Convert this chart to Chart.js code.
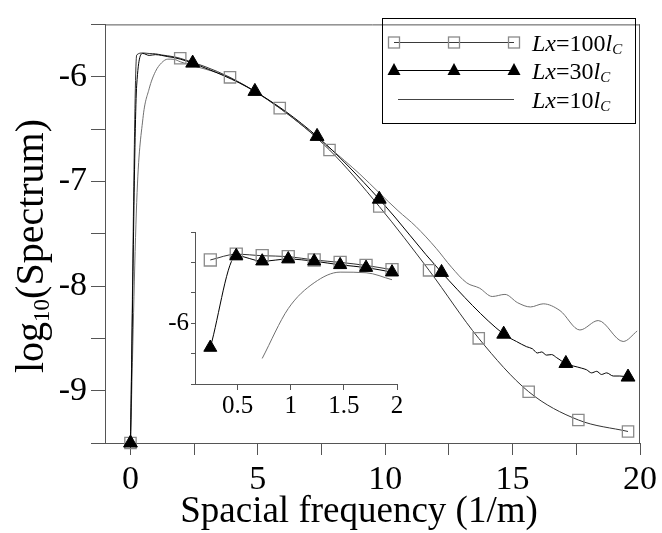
<!DOCTYPE html>
<html><head><meta charset="utf-8">
<script src="https://cdn.jsdelivr.net/npm/chart.js@4.4.1/dist/chart.umd.min.js"></script>
<style>
html,body{margin:0;padding:0;background:#fff;}
#wrap{position:relative;width:662px;height:533px;}
canvas{position:absolute;}
</style>
</head><body>
<div id="wrap">
<canvas id="main" width="662" height="533" style="left:0;top:0"></canvas>
<canvas id="inset" width="260" height="210" style="left:150px;top:215px"></canvas>
</div>
<script>
const SERIF = '"Liberation Serif", "Times New Roman", serif';

// ---- data: spatial frequency (1/m) and log10(Spectrum) ----
const lx100Freq = [0, 0.244, 0.488, 0.732, 0.977, 1.221, 1.465, 1.709, 1.953, 3.906, 5.859, 7.813, 9.766, 11.72, 13.67, 15.63, 17.58, 19.53];
const lx100Log  = [-9.5, -5.792, -5.773, -5.778, -5.781, -5.792, -5.800, -5.810, -5.824, -6.006, -6.30, -6.70, -7.24, -7.85, -8.50, -9.01, -9.28, -9.39];
const lx100MainMarks = [0, 1.953, 3.906, 5.859, 7.813, 9.766, 11.72, 13.67, 15.63, 17.58, 19.53];

const lx30Freq = [0, 0.244, 0.488, 0.732, 0.977, 1.221, 1.465, 1.709, 1.953, 2.441, 4.883, 7.324, 9.766, 12.21, 14.65, 15.15, 15.55, 15.78, 15.97, 16.14, 16.33, 16.53, 16.73, 17.09, 17.71, 17.9, 18.1, 18.3, 18.49, 18.69, 18.95, 19.21, 19.53];
const lx30Log  = [-9.5, -6.080, -5.778, -5.796, -5.789, -5.796, -5.808, -5.817, -5.832, -5.87, -6.14, -6.57, -7.17, -7.87, -8.46, -8.53, -8.58, -8.60, -8.64, -8.63, -8.66, -8.655, -8.685, -8.74, -8.785, -8.80, -8.83, -8.815, -8.845, -8.83, -8.86, -8.86, -8.87];
const lx30MainMarks = [0, 2.441, 4.883, 7.324, 9.766, 12.21, 14.65, 17.09, 19.53];

const lx10Freq = [0, 0.244, 0.488, 0.732, 0.977, 1.221, 1.465, 1.709, 1.953, 3.906, 5.859, 7.813, 9.0, 9.766, 10.5, 11.2, 12.0, 12.6, 13.2, 13.7, 14.2, 14.7, 15.2, 15.7, 16.2, 16.86, 17.64, 18.36, 19.34, 19.89];
const lx10Log  = [-9.5, -7.2, -6.4, -6.116, -5.952, -5.867, -5.832, -5.834, -5.857, -6.01, -6.30, -6.68, -6.93, -7.11, -7.28, -7.43, -7.64, -7.82, -7.97, -8.02, -8.10, -8.08, -8.16, -8.20, -8.17, -8.235, -8.42, -8.33, -8.53, -8.43];

// axis ticks
const mainXTickLabels = [0, 5, 10, 15, 20];
const mainYTickLabels = [-6, -7, -8, -9];
const insetXTickLabels = [0.5, 1, 1.5, 2];
const insetYTickLabels = [-6];

const legendLabels = ['100', '30', '10'];

// ---- helpers ----
const pts = (xs, ys, keep) => xs.map((x, i) => ({x, y: ys[i]})).filter(p => !keep || keep(p.x));
const inList = list => x => list.some(v => Math.abs(v - x) < 1e-6);
const near = (list, v) => list.some(t => Math.abs(t - v) < 1e-6);

const AXIS = '#555';

function lineDs(data, color, order, width, clip) {
  return {data, showLine: true, borderColor: color, borderWidth: width || 1, pointRadius: 0, fill: false,
    cubicInterpolationMode: 'monotone', order, clip};
}
function markDs(data, style, radius, stroke, fill, order, bw) {
  return {data, showLine: false, pointStyle: style, pointRadius: radius, pointHoverRadius: radius,
    borderColor: stroke, backgroundColor: fill, pointBorderColor: stroke, pointBackgroundColor: fill,
    borderWidth: bw, pointBorderWidth: bw, order, clip: false};
}

// frame + axis titles + legend plugin for main chart
const mainDecor = {
  id: 'mainDecor',
  afterDraw(chart) {
    const ctx = chart.ctx, a = chart.chartArea;
    ctx.save();
    ctx.strokeStyle = AXIS; ctx.lineWidth = 1;
    ctx.beginPath();
    ctx.moveTo(a.left, a.top + 0.5); ctx.lineTo(a.right, a.top + 0.5);
    ctx.moveTo(a.right - 0.5, a.top); ctx.lineTo(a.right - 0.5, a.bottom);
    ctx.stroke();

    // x title
    ctx.fillStyle = '#000';
    ctx.font = `37px ${SERIF}`; ctx.textAlign = 'center'; ctx.textBaseline = 'alphabetic';
    ctx.fillText('Spacial frequency (1/m)', 359, 522);

    // y title with subscript
    ctx.translate(30, 246);
    ctx.rotate(-Math.PI / 2);
    const big = `40px ${SERIF}`, small = `23px ${SERIF}`;
    ctx.font = big; const w1 = ctx.measureText('log').width; const w3 = ctx.measureText('(Spectrum)').width;
    ctx.font = small; const w2 = ctx.measureText('10').width;
    let x0 = -(w1 + w2 + w3) / 2;
    ctx.textAlign = 'left';
    ctx.font = big; ctx.fillText('log', x0, 13);
    ctx.font = small; ctx.fillText('10', x0 + w1, 19);
    ctx.font = big; ctx.fillText('(Spectrum)', x0 + w1 + w2, 13);
    ctx.restore();

    // legend
    ctx.save();
    ctx.strokeStyle = '#000'; ctx.lineWidth = 1;
    ctx.strokeRect(382.5, 18.5, 253, 105);
    const rows = [42, 70, 99];
    ctx.strokeStyle = '#3a3a3a'; ctx.beginPath(); ctx.moveTo(394, rows[0] + 0.5); ctx.lineTo(514, rows[0] + 0.5); ctx.stroke();
    ctx.strokeStyle = '#8a8a8a'; ctx.lineWidth = 1.3;
    [394, 454, 514].forEach(x => ctx.strokeRect(x - 5.5, rows[0] - 5, 11, 11));
    ctx.strokeStyle = '#000'; ctx.lineWidth = 1;
    ctx.beginPath(); ctx.moveTo(394, rows[1] + 0.5); ctx.lineTo(514, rows[1] + 0.5); ctx.stroke();
    ctx.fillStyle = '#000';
    [394, 454, 514].forEach(x => { ctx.beginPath(); ctx.moveTo(x, rows[1] - 7); ctx.lineTo(x + 6.5, rows[1] + 5); ctx.lineTo(x - 6.5, rows[1] + 5); ctx.closePath(); ctx.fill(); });
    ctx.strokeStyle = '#444'; ctx.beginPath(); ctx.moveTo(398, rows[2] + 0.5); ctx.lineTo(514, rows[2] + 0.5); ctx.stroke();
    ctx.fillStyle = '#000'; ctx.textBaseline = 'alphabetic'; ctx.textAlign = 'left';
    const it = `italic 24px ${SERIF}`, rg = `24px ${SERIF}`, sub = `italic 15px ${SERIF}`;
    rows.forEach((y, i) => {
      let x = 532; const by = y + 9;
      ctx.font = it; ctx.fillText('Lx', x, by); x += ctx.measureText('Lx').width;
      ctx.font = rg; const t = '=' + legendLabels[i]; ctx.fillText(t, x, by); x += ctx.measureText(t).width;
      ctx.font = it; ctx.fillText('l', x, by); x += ctx.measureText('l').width;
      ctx.font = sub; ctx.fillText('C', x, by + 3);
    });
    ctx.restore();
  }
};

const mainChart = new Chart(document.getElementById('main'), {
  type: 'scatter',
  data: {datasets: [
    lineDs(pts(lx10Freq, lx10Log), '#707070', 5, 1, false),
    lineDs(pts(lx100Freq, lx100Log), '#333', 4, 1, false),
    lineDs(pts(lx30Freq, lx30Log), '#000', 3, 1, false),
    markDs(pts(lx100Freq, lx100Log, inList(lx100MainMarks)), 'rect', 8, '#8a8a8a', 'rgba(0,0,0,0)', 1, 1.3),
    markDs(pts(lx30Freq, lx30Log, inList(lx30MainMarks)), 'triangle', 8, '#000', '#000', 0, 1)
  ]},
  options: {
    responsive: false, animation: false, devicePixelRatio: 1,
    layout: {padding: {left: 0, top: 11, right: 20, bottom: 0}},
    plugins: {legend: {display: false}, tooltip: {enabled: false}},
    scales: {
      x: {type: 'linear', min: -1, max: 20,
        afterFit: s => { s.height = 90; },
        ticks: {stepSize: 2.5, includeBounds: false, autoSkip: false, maxRotation: 0, padding: 5,
          color: '#000', font: {family: SERIF, size: 34},
          callback: v => near(mainXTickLabels, v) ? String(v) : ''},
        grid: {drawOnChartArea: false, drawTicks: true, tickLength: 12, color: AXIS},
        border: {color: AXIS, width: 1}
      },
      y: {type: 'linear', min: -9.5, max: -5.5,
        afterFit: s => { s.width = 105; },
        ticks: {stepSize: 0.5, autoSkip: false, padding: 4, color: '#000',
          font: {family: SERIF, size: 34},
          callback: v => near(mainYTickLabels, v) ? String(v) : ''},
        grid: {drawOnChartArea: false, drawTicks: true, tickLength: 14, color: AXIS},
        border: {color: AXIS, width: 1}
      }
    }
  },
  plugins: [mainDecor]
});

const insetKeep = x => x > 0.2 && x <= 2.0;
const insetKeepLx10 = x => x > 0.7 && x <= 2.0;
const insetChart = new Chart(document.getElementById('inset'), {
  type: 'scatter',
  data: {datasets: [
    lineDs(pts(lx10Freq, lx10Log, insetKeepLx10), '#707070', 5, 1, true),
    lineDs(pts(lx100Freq, lx100Log, insetKeep), '#333', 4, 1, true),
    lineDs(pts(lx30Freq, lx30Log, insetKeep), '#000', 3, 1, true),
    markDs(pts(lx100Freq, lx100Log, insetKeep), 'rect', 8.5, '#8a8a8a', 'rgba(0,0,0,0)', 1, 1.3),
    markDs(pts(lx30Freq, lx30Log, insetKeep), 'triangle', 7.5, '#000', '#000', 0, 1)
  ]},
  options: {
    responsive: false, animation: false, devicePixelRatio: 1,
    layout: {padding: {left: 0, top: 13, right: 13, bottom: 0}},
    plugins: {legend: {display: false}, tooltip: {enabled: false}},
    scales: {
      x: {type: 'linear', min: 0.1, max: 2.0,
        afterFit: s => { s.height = 41; },
        ticks: {stepSize: 0.5, includeBounds: false, autoSkip: false, maxRotation: 0, padding: 1,
          color: '#000', font: {family: SERIF, size: 25},
          callback: v => near(insetXTickLabels, v) ? String(v) : ''},
        grid: {drawOnChartArea: false, drawTicks: true, tickLength: 6, color: AXIS},
        border: {color: AXIS, width: 1}
      },
      y: {type: 'linear', min: -6.2, max: -5.7,
        afterFit: s => { s.width = 45; },
        ticks: {stepSize: 0.1, autoSkip: false, padding: 2, color: '#000',
          font: {family: SERIF, size: 25},
          callback: v => near(insetYTickLabels, v) ? String(Math.round(v)) : ''},
        grid: {drawOnChartArea: false, drawTicks: true, tickLength: 4, color: AXIS},
        border: {color: AXIS, width: 1}
      }
    }
  }
});
</script>
</body></html>
